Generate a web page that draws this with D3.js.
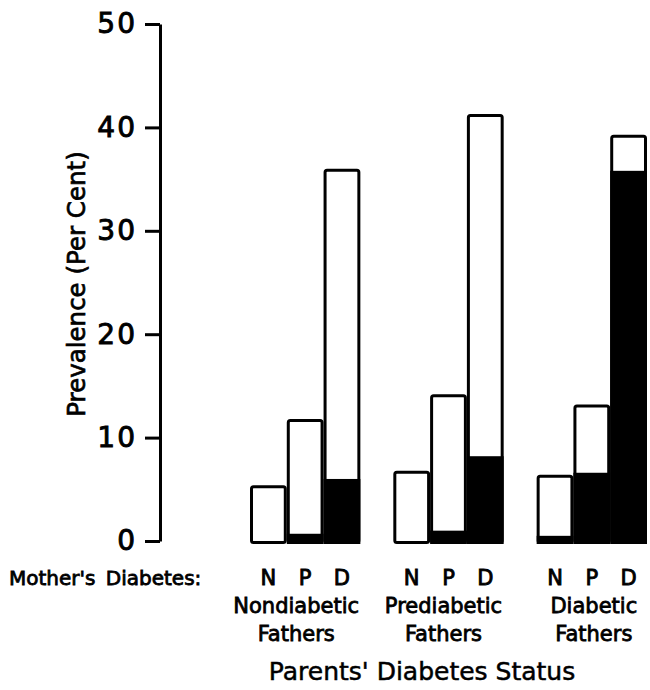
<!DOCTYPE html>
<html>
<head>
<meta charset="utf-8">
<script src="https://cdn.jsdelivr.net/npm/d3@7"></script>
<style>
  body { margin: 0; background: #fff; }
  svg { display: block; }
  text { fill: #000; }
</style>
</head>
<body>
<div id="chart"></div>
<script>
// Data: prevalence of diabetes in offspring by parents' diabetes status
const fatherGroups = ['Nondiabetic', 'Prediabetic', 'Diabetic'];
const motherStatus = ['N', 'P', 'D'];
// total bar height (per cent), per father group, in N/P/D order
const totalPrev = [
    [5.4, 11.8, 36.0],
    [6.8, 14.2, 41.3],
    [6.4, 13.2, 39.3]
];
// black (lower) part of each bar
const blackPrev = [
    [0.0, 0.7, 6.0],
    [0.0, 1.0, 8.2],
    [0.5, 6.6, 35.8]
];
const yTicks = [0, 10, 20, 30, 40, 50];

const W = 650, H = 690;
const FONT = '"DejaVu Sans", sans-serif';

const svg = d3.select('#chart').append('svg')
    .attr('width', W)
    .attr('height', H);

// medium-weight look: regular glyphs with a thin outline
const heavy = (sel, size, sw) => sel
    .style('font-family', FONT)
    .style('font-size', size + 'px')
    .attr('fill', '#000')
    .attr('stroke', '#000')
    .attr('stroke-width', sw);

const y = d3.scaleLinear().domain([0, 50]).range([541, 24]);

const xGroup = d3.scaleBand()
    .domain(fatherGroups)
    .range([250, 647])
    .paddingInner(0.23)
    .paddingOuter(0);

const xBar = d3.scaleBand()
    .domain(motherStatus)
    .range([0, xGroup.bandwidth()])
    .padding(0);

// ── Y axis ────────────────────────────────────────────────────────────
const yAxis = d3.axisLeft(y)
    .tickValues(yTicks)
    .tickSize(15)
    .tickSizeOuter(0)
    .tickPadding(8)
    .tickFormat(d3.format('d'));

const axisG = svg.append('g')
    .attr('transform', 'translate(160,0)')
    .call(yAxis);

axisG.select('.domain').attr('stroke', '#000').attr('stroke-width', 3);
axisG.selectAll('.tick line').attr('stroke', '#000').attr('stroke-width', 3);
axisG.selectAll('.tick text')
    .call(heavy, 28, 0.9)
    .style('letter-spacing', '2px');

svg.append('text')
    .attr('transform', 'translate(85,284) rotate(-90)')
    .attr('text-anchor', 'middle')
    .call(heavy, 24.5, 0.7)
    .text('Prevalence (Per Cent)');

// ── Bars ──────────────────────────────────────────────────────────────
const rows = [];
fatherGroups.forEach((g, gi) => {
    motherStatus.forEach((m, mi) => {
        rows.push({ group: g, mother: m, total: totalPrev[gi][mi], black: blackPrev[gi][mi] });
    });
});

const bars = svg.append('g').selectAll('.bar')
    .data(rows)
    .enter()
    .append('g')
    .attr('class', 'bar')
    .attr('transform', d => `translate(${xGroup(d.group) + xBar(d.mother)},0)`);

bars.append('rect')
    .attr('x', 1.5)
    .attr('y', d => y(d.total) + 1.5)
    .attr('width', xBar.bandwidth() - 3)
    .attr('height', d => y(0) - y(d.total))
    .attr('rx', 2)
    .attr('fill', '#fff')
    .attr('stroke', '#000')
    .attr('stroke-width', 3);

bars.filter(d => d.black > 0)
    .append('rect')
    .attr('x', 0)
    .attr('y', d => y(d.black))
    .attr('width', xBar.bandwidth())
    .attr('height', d => y(0) + 3 - y(d.black))
    .attr('fill', '#000');

// ── Category labels ───────────────────────────────────────────────────
svg.append('text')
    .attr('x', 9)
    .attr('y', 585)
    .call(heavy, 20, 0.8)
    .style('word-spacing', '4px')
    .text("Mother's Diabetes:");

bars.append('text')
    .attr('x', xBar.bandwidth() / 2)
    .attr('y', 585)
    .attr('text-anchor', 'middle')
    .call(heavy, 21, 0.9)
    .text(d => d.mother);

const labelShift = [-9, -5, 2];
const groupLab = svg.append('g').selectAll('.glab')
    .data(fatherGroups)
    .enter()
    .append('text')
    .attr('class', 'glab')
    .attr('text-anchor', 'middle')
    .attr('transform', (d, i) => `translate(${xGroup(d) + xGroup.bandwidth() / 2 + labelShift[i]},0)`)
    .call(heavy, 21, 0.8);

groupLab.append('tspan').attr('x', 0).attr('y', 613).text(d => d);
groupLab.append('tspan').attr('x', 0).attr('y', 641).text('Fathers');

svg.append('text')
    .attr('x', 422)
    .attr('y', 680)
    .attr('text-anchor', 'middle')
    .call(heavy, 25, 0.5)
    .text("Parents' Diabetes Status");
</script>
</body>
</html>
